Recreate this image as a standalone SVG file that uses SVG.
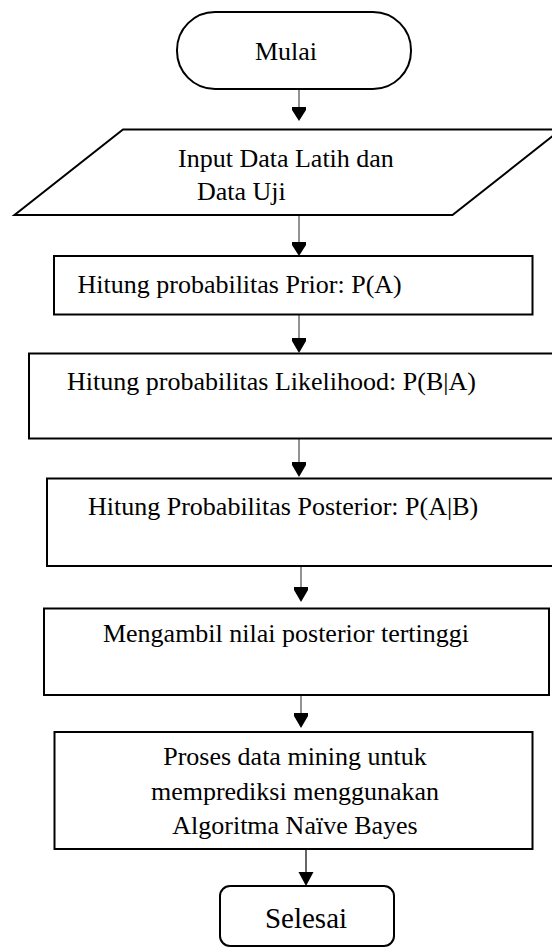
<svg xmlns="http://www.w3.org/2000/svg" width="552" height="947" viewBox="0 0 552 947">
<style>
.box{fill:#fff;stroke:#000;stroke-width:2}
.t{font-family:"Liberation Serif","Times New Roman",serif;font-size:26px;fill:#000}
.c{text-anchor:middle}
.ln{stroke:#777;stroke-width:1.6;fill:none}
.hd{fill:#000}
</style>
<rect width="552" height="947" fill="#fff"/>
<g id="connectors">
  <line class="ln" x1="299" y1="89" x2="299" y2="109"/>
  <polygon class="hd" points="292,107 306,107 306,110 299,121 292,110"/>
  <line class="ln" x1="299" y1="215" x2="299" y2="244"/>
  <polygon class="hd" points="292,242 306,242 306,245 299,256 292,245"/>
  <line class="ln" x1="299" y1="315" x2="299" y2="340"/>
  <polygon class="hd" points="292,338 306,338 306,341 299,353 292,341"/>
  <line class="ln" x1="299" y1="439" x2="299" y2="464"/>
  <polygon class="hd" points="292,462 306,462 306,465 299,477 292,465"/>
  <line class="ln" x1="301" y1="566" x2="301" y2="589"/>
  <polygon class="hd" points="294,587 308,587 308,590 301,602 294,590"/>
  <line class="ln" x1="301" y1="695" x2="301" y2="715"/>
  <polygon class="hd" points="294,713 308,713 308,716 301,728 294,716"/>
  <line stroke="#000" stroke-width="1.2" x1="306" y1="849" x2="306" y2="874"/>
  <polygon class="hd" points="298.5,872 313.5,872 306,886"/>
</g>
<g id="mulai">
  <rect class="box" x="177" y="12" width="234" height="77" rx="38" ry="38"/>
  <text class="t c" x="286" y="60">Mulai</text>
</g>
<g id="input">
  <polygon class="box" points="123,129.5 561,129.5 452.5,215 14.5,215"/>
  <text class="t" x="178" y="167">Input Data Latih dan</text>
  <text class="t" x="197" y="200">Data Uji</text>
</g>
<g id="prior">
  <rect class="box" x="54" y="256" width="478.5" height="58.5"/>
  <text class="t" x="77.5" y="293">Hitung probabilitas Prior: P(A)</text>
</g>
<g id="likelihood">
  <rect class="box" x="29" y="353.5" width="530" height="85"/>
  <text class="t" x="67" y="390">Hitung probabilitas Likelihood: P(B|A)</text>
</g>
<g id="posterior">
  <rect class="box" x="47" y="478.5" width="512" height="87.5"/>
  <text class="t" x="88" y="515">Hitung Probabilitas Posterior: P(A|B)</text>
</g>
<g id="mengambil">
  <rect class="box" x="44" y="608.5" width="505" height="86.5"/>
  <text class="t c" x="286" y="642">Mengambil nilai posterior tertinggi</text>
</g>
<g id="proses">
  <rect class="box" x="54.5" y="732" width="478" height="117"/>
  <text class="t c" x="295" y="765">Proses data mining untuk</text>
  <text class="t c" x="295" y="800">memprediksi menggunakan</text>
  <text class="t c" x="295" y="834">Algoritma Naïve Bayes</text>
</g>
<g id="selesai">
  <rect class="box" x="220" y="886" width="174" height="60" rx="10" ry="10"/>
  <text class="t c" x="306" y="928" style="font-size:29px">Selesai</text>
</g>
</svg>
